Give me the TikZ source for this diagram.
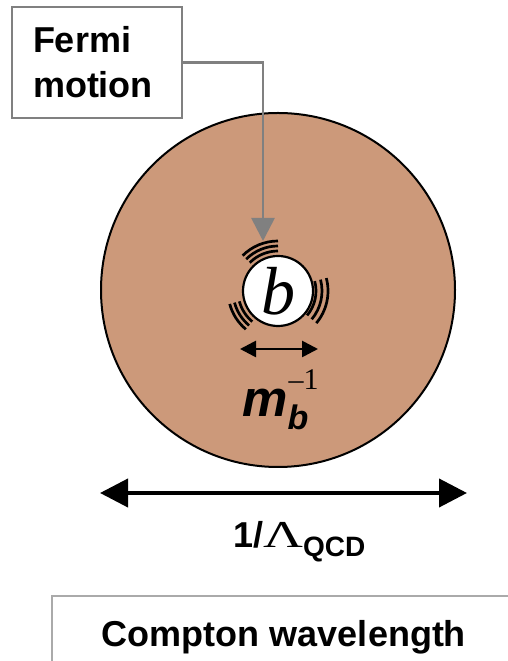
\documentclass[tikz,border=0pt]{standalone}
\usepackage{fontspec}
\usepackage{graphicx}
\setmainfont{Liberation Sans}
\newfontfamily\serifgreek{Liberation Serif}
\usepackage{tikz}
\usetikzlibrary{arrows.meta,positioning}
\definecolor{nucleon}{RGB}{204,153,122}
\definecolor{boxgray}{RGB}{128,128,128}
\definecolor{capgray}{RGB}{170,170,170}

\begin{document}
\begin{tikzpicture}[
  x=1pt, y=1pt,
  labelbox/.style={rectangle, draw=boxgray, line width=2pt, fill=white, align=left, inner xsep=21pt, text width=128pt, minimum height=111pt, font=\fontsize{36}{45}\selectfont\bfseries},
  pointer/.style={draw=boxgray, line width=2.7pt, -{Triangle[length=23pt, width=23pt]}},
  motion/.style={black, line width=2.7pt},
  sizearrow/.style={black, line width=2.7pt, {Triangle[length=16pt, width=16pt]}-{Triangle[length=16pt, width=16pt]}},
  bigarrow/.style={black, line width=4pt, {Triangle[length=28pt, width=28pt]}-{Triangle[length=28pt, width=28pt]}}
]
  \useasboundingbox (0,0) rectangle (508,661);
  \clip (0,0) rectangle (508,661);

  % hadron and b quark
  \node[circle, draw, line width=2pt, fill=nucleon, minimum size=354pt] (hadron) at (278,371) {};
  \node[circle, draw, line width=2.2pt, fill=white, minimum size=70pt, inner sep=0pt] (bquark) at (278,370)
    {\serifgreek\itshape\fontsize{68}{68}\selectfont b};

  % motion lines
  \foreach \r in {40,45,50}
    \draw[motion] ([shift={(90:\r)}]bquark.center) arc[start angle=90, end angle=135, radius=\r];
  \foreach \r in {38,44,50}
    \draw[motion] ([shift={(15:\r)}]bquark.center) arc[start angle=15, end angle=-40, radius=\r];
  \foreach \r in {40,45,50}
    \draw[motion] ([shift={(195:\r)}]bquark.center) arc[start angle=195, end angle=230, radius=\r];

  % Fermi motion label
  \node[labelbox] (fermi) at (97,598.5) {Fermi\\motion};
  \coordinate (fermitip) at (263,420);
  \draw[pointer] (fermi.east) -| (fermitip);

  % b quark size
  \coordinate (mleft) at (240,312);
  \coordinate (mright) at (318,312);
  \draw[sizearrow] (mleft) -- (mright);
  \node[anchor=base west, inner sep=0pt] (mlabel) at (242,244)
    {{\fontsize{51}{51}\selectfont\bfseries\itshape m}\rlap{\raisebox{-13pt}{\fontsize{34}{34}\selectfont\bfseries\itshape b}}\kern1pt\raisebox{27pt}{\serifgreek\fontsize{30}{30}\selectfont –1}};

  % hadron size
  \coordinate (hleft) at (100,168);
  \coordinate (hright) at (467,168);
  \draw[bigarrow] (hleft) -- (hright);
  \node[anchor=base west, inner sep=0pt] (hlabel) at (233,113)
    {{\fontsize{36}{36}\selectfont\bfseries 1/}{\serifgreek\fontsize{38}{38}\selectfont\scalebox{1.45}[1]{Λ}}\raisebox{-9pt}{\fontsize{28}{28}\selectfont\bfseries QCD}};

  % Compton wavelength label
  \draw[draw=capgray, line width=2pt] (52,65) rectangle (530,-20);
  \node[anchor=base, inner sep=0pt, font=\fontsize{36}{36}\selectfont\bfseries] (compton) at (284,14) {Compton wavelength};
\end{tikzpicture}
\end{document}
